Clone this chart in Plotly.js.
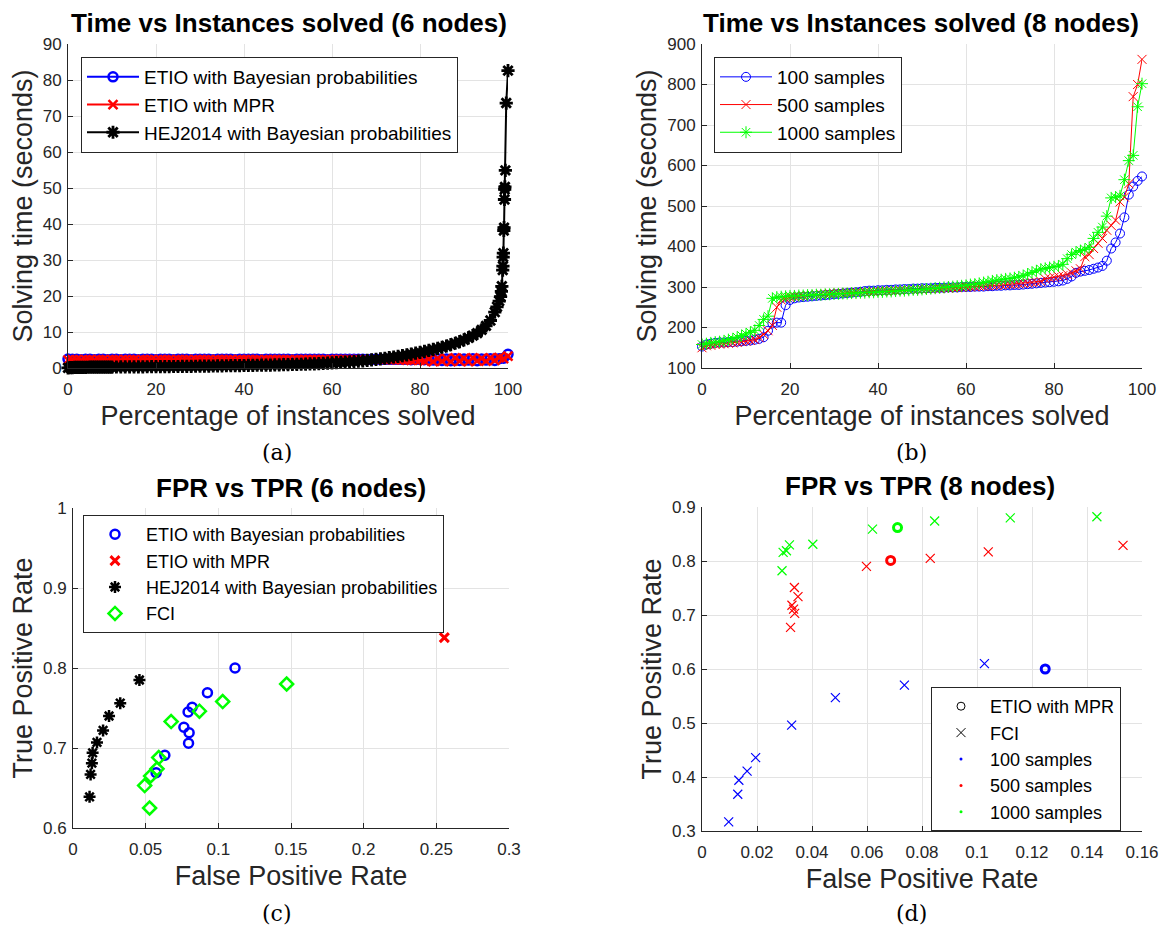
<!DOCTYPE html>
<html>
<head>
<meta charset="utf-8">
<script src="https://cdn.plot.ly/plotly-3.0.1.min.js"></script>
<style>html,body{margin:0;padding:0;background:#fff;}#chart{width:1160px;height:927px;}</style>
</head>
<body>
<div id="chart"></div>
<script>
// ---------- (a) Time vs Instances solved (6 nodes) ----------
const pctA = [0,1,2,3,4,5,6,7,8,9,10,11,12,13,14,15,16,17,18,19,20,21,22,23,24,25,26,27,28,29,30,31,32,33,34,35,36,37,38,39,40,41,42,43,44,45,46,47,48,49,50,51,52,53,54,55,56,57,58,59,60,61,62,63,64,65,66,67,68,69,70,71,72,73,74,75,76,77,78,79,80,81,82,83,84,85,86,87,88,89,90,91,92,93,94,95,96,97,98,99,100];
const etioBayesA = [2.5,2.4,2.4,2.3,2.4,2.4,2.3,2.4,2.4,2.3,2.4,2.4,2.3,2.4,2.4,2.4,2.3,2.4,2.4,2.4,2.3,2.4,2.4,2.4,2.3,2.4,2.4,2.4,2.3,2.4,2.4,2.4,2.4,2.3,2.4,2.4,2.4,2.4,2.3,2.4,2.4,2.4,2.4,2.4,2.3,2.4,2.4,2.4,2.4,2.4,2.4,2.3,2.4,2.4,2.4,2.4,2.4,2.4,2.4,2.3,2.4,2.4,2.4,2.4,2.4,2.4,2.4,2.4,2.3,2.4,2.4,2.4,2.4,2.4,2.4,2.4,2.4,2.4,2.3,2.4,2.4,2.3,2.5,2.2,2.6,2.1,2.5,2.0,2.6,2.1,2.5,2.2,2.6,2.0,2.5,2.2,2.6,2.1,2.6,2.7,3.8];
const etioMprA = [2.2,2.3,2.3,2.2,2.3,2.3,2.2,2.3,2.3,2.2,2.3,2.3,2.2,2.3,2.3,2.3,2.2,2.3,2.3,2.3,2.2,2.3,2.3,2.3,2.2,2.3,2.3,2.3,2.2,2.3,2.3,2.3,2.3,2.2,2.3,2.3,2.3,2.3,2.2,2.3,2.3,2.3,2.3,2.3,2.2,2.3,2.3,2.3,2.3,2.3,2.3,2.2,2.3,2.3,2.3,2.3,2.3,2.3,2.3,2.2,2.3,2.3,2.3,2.3,2.3,2.3,2.3,2.3,2.2,2.3,2.3,2.3,2.3,2.3,2.3,2.3,2.3,2.2,2.1,2.3,2.2,1.9,2.5,1.8,2.6,1.9,2.7,1.8,2.8,1.9,2.7,1.8,2.8,2.0,2.7,1.9,2.8,2.1,2.9,2.6,3.3];
const hejPctA = [0,0.5,1,1.5,2,2.5,3,3.5,4,4.5,5,5.5,6,6.5,7,7.5,8,8.5,9,9.5,10,11,12,13,14,15,16,17,18,19,20,21,22,23,24,25,26,27,28,29,30,31,32,33,34,35,36,37,38,39,40,41,42,43,44,45,46,47,48,49,50,51,52,53,54,55,56,57,58,59,60,61,62,63,64,65,66,67,68,69,70,71,72,73,74,75,76,77,78,79,80,81,82,83,84,85,86,87,88,89,90,91,92,93,94,95,96,97,97.5,98,98.3,98.5,98.6,98.8,98.85,98.9,98.95,99.05,99.1,99.2,99.25,99.3,99.4,99.6,100];
const hejBayesA = [0.05,0.10,0.13,0.15,0.17,0.18,0.19,0.20,0.20,0.21,0.22,0.22,0.23,0.23,0.24,0.24,0.25,0.25,0.26,0.26,0.27,0.28,0.29,0.30,0.31,0.32,0.33,0.34,0.35,0.36,0.37,0.38,0.39,0.40,0.41,0.42,0.43,0.45,0.46,0.48,0.50,0.52,0.54,0.56,0.58,0.60,0.62,0.64,0.66,0.68,0.70,0.72,0.74,0.76,0.78,0.80,0.82,0.85,0.88,0.91,0.94,0.97,1.00,1.04,1.08,1.12,1.17,1.22,1.28,1.34,1.40,1.47,1.54,1.62,1.70,1.79,1.89,2.00,2.12,2.25,2.40,2.55,2.71,2.88,3.06,3.25,3.45,3.66,3.88,4.11,4.35,4.60,4.87,5.15,5.45,5.77,6.11,6.48,6.88,7.32,7.80,8.35,8.98,9.70,10.6,11.7,13.2,15.5,17.0,18.6,19.8,21.3,22.7,27.2,28.3,30.8,31.9,38.2,39.0,46.8,49.6,50.3,54.9,73.6,82.6];

// ---------- (b) Time vs Instances solved (8 nodes) ----------
const pctB = [0,1,2,3,4,5,6,7,8,9,10,11,12,13,14,15,16,17,18,19,20,21,22,23,24,25,26,27,28,29,30,31,32,33,34,35,36,37,38,39,40,41,42,43,44,45,46,47,48,49,50,51,52,53,54,55,56,57,58,59,60,61,62,63,64,65,66,67,68,69,70,71,72,73,74,75,76,77,78,79,80,81,82,83,84,85,86,87,88,89,90,91,92,93,94,95,96,97,98,99,100];
const samples100B = [153,158,160,162,163,163,164,164,165,166,167,168,170,172,176,192,210,212,212,255,268,272,274,275,276,277,278,279,280,281,282,283,284,285,286,287,288,290,291,291,292,292,293,293,294,294,295,295,296,296,297,297,297,298,298,298,299,299,299,300,300,300,301,301,301,302,302,303,303,304,304,305,305,306,307,308,309,310,311,312,313,314,316,320,326,335,338,340,342,345,348,352,365,395,410,432,472,528,548,562,573];
const samples500B = [150,155,156,158,159,160,161,162,163,165,166,168,170,175,183,192,205,250,268,272,274,276,277,278,279,280,281,282,283,284,284,285,285,286,286,287,287,288,288,289,289,290,290,291,291,292,292,293,293,294,294,295,295,296,296,297,297,298,298,299,300,300,301,302,302,303,304,304,305,306,306,307,308,309,310,311,312,314,320,322,324,326,328,331,335,340,345,375,380,395,408,420,440,452,465,510,522,555,770,800,862];
const samples1000B = [158,160,162,164,165,167,170,172,176,180,184,188,193,205,220,228,272,275,276,277,278,278,279,279,280,280,281,281,282,282,283,283,284,284,285,285,286,286,287,287,288,288,289,289,290,291,291,292,293,293,294,295,296,297,298,299,300,301,302,303,304,306,307,309,311,313,315,317,318,320,321,323,325,328,332,336,340,344,346,348,350,352,356,370,380,386,390,393,398,420,435,448,475,520,522,525,565,612,625,745,802];

// ---------- (c) FPR vs TPR (6 nodes) ----------
const etioBayesFprC = [0.1115,0.0925,0.0820,0.0792,0.0763,0.0799,0.0795,0.0632,0.0572];
const etioBayesTprC = [0.800,0.769,0.751,0.745,0.726,0.719,0.706,0.691,0.669];
const etioMprFprC = [0.2555];
const etioMprTprC = [0.838];
const hejFprC = [0.0457,0.0325,0.0248,0.0207,0.0165,0.0135,0.0130,0.0121,0.0114];
const hejTprC = [0.785,0.756,0.740,0.722,0.707,0.694,0.681,0.667,0.639];
const fciFprC = [0.1470,0.1030,0.0870,0.0675,0.0590,0.0578,0.0534,0.0493,0.0527];
const fciTprC = [0.780,0.758,0.746,0.733,0.688,0.674,0.665,0.653,0.625];

// ---------- (d) FPR vs TPR (8 nodes) ----------
const fci100Fpr = [0.0097,0.0130,0.0134,0.0164,0.0195,0.0326,0.0485,0.0736,0.1027];
const fci100Tpr = [0.317,0.368,0.394,0.411,0.436,0.496,0.547,0.570,0.610];
const fci500Fpr = [0.0336,0.0349,0.0327,0.0333,0.0337,0.0322,0.0598,0.0830,0.1041,0.1531];
const fci500Tpr = [0.751,0.734,0.718,0.711,0.703,0.677,0.790,0.805,0.817,0.829];
const fci1000Fpr = [0.0291,0.0295,0.0307,0.0318,0.0403,0.0620,0.0846,0.1121,0.1436];
const fci1000Tpr = [0.782,0.816,0.819,0.830,0.831,0.859,0.874,0.880,0.882];
const etio100Fpr = [0.1248];
const etio100Tpr = [0.600];
const etio500Fpr = [0.0686];
const etio500Tpr = [0.801];
const etio1000Fpr = [0.0711];
const etio1000Tpr = [0.862];

// ---------- texts ----------
const panelTitles = ['Time vs Instances solved (6 nodes)','Time vs Instances solved (8 nodes)','FPR vs TPR (6 nodes)','FPR vs TPR (8 nodes)'];
const subLabels = ['(a)','(b)','(c)','(d)'];

const SANS = 'Liberation Sans, Arial, Helvetica, sans-serif';
const AXC = '#262626';
const BLUE = '#0000ff', RED = '#ff0000', GREEN = '#00ff00', BLACK = '#000000';
const W = 1160, H = 927;
const px = v => v / W;
const py = v => 1 - v / H;

function xax(l, r, range, dtick, anchor, title) {
  return {domain:[px(l), px(r)], range, tickmode:'linear', tick0:range[0], dtick, anchor,
    showgrid:true, gridcolor:'#e3e3e3', gridwidth:1, zeroline:false,
    showline:true, linecolor:AXC, linewidth:1, ticks:'inside', ticklen:5, tickwidth:1, tickcolor:AXC,
    tickfont:{family:SANS, size:17, color:AXC}, ticklabelstandoff:6,
    title:{text:title, font:{family:SANS, size:27, color:AXC}, standoff:7}};
}
function yax(t, b, range, dtick, anchor, title) {
  return {domain:[py(b), py(t)], range, tickmode:'linear', tick0:range[0], dtick, anchor,
    showgrid:true, gridcolor:'#e3e3e3', gridwidth:1, zeroline:false,
    showline:true, linecolor:AXC, linewidth:1, ticks:'inside', ticklen:5, tickwidth:1, tickcolor:AXC,
    tickfont:{family:SANS, size:17, color:AXC}, ticklabelstandoff:2,
    title:{text:title, font:{family:SANS, size:27, color:AXC}, standoff:2}};
}

function lineTrace(x, y, name, color, symbol, msize, mlw, lw, xa, ya, leg) {
  return {type:'scatter', mode:'lines+markers', x, y, name, xaxis:xa, yaxis:ya, legend:leg, cliponaxis:false,
    line:{color, width:lw}, marker:{symbol, size:msize, color, line:{color, width:mlw}}};
}
function ptTrace(x, y, name, color, symbol, msize, mlw, xa, ya, leg, show) {
  return {type:'scatter', mode:'markers', x, y, name, xaxis:xa, yaxis:ya, legend:leg, cliponaxis:false,
    showlegend:show, marker:{symbol, size:msize, color, line:{color, width:mlw}}};
}

const traces = [
  lineTrace(pctA, etioBayesA, 'ETIO with Bayesian probabilities', BLUE, 'circle-open', 9, 2.5, 2, 'x', 'y', 'legend'),
  lineTrace(pctA, etioMprA, 'ETIO with MPR', RED, 'x-thin-open', 9, 2.5, 2, 'x', 'y', 'legend'),
  lineTrace(hejPctA, hejBayesA, 'HEJ2014 with Bayesian probabilities', BLACK, 'asterisk-open', 11, 2.8, 2, 'x', 'y', 'legend'),

  lineTrace(pctB, samples100B, '100 samples', BLUE, 'circle-open', 9, 1, 1, 'x2', 'y2', 'legend2'),
  lineTrace(pctB, samples500B, '500 samples', RED, 'x-thin-open', 9, 1, 1, 'x2', 'y2', 'legend2'),
  lineTrace(pctB, samples1000B, '1000 samples', GREEN, 'asterisk-open', 10, 1, 1, 'x2', 'y2', 'legend2'),

  ptTrace(etioBayesFprC, etioBayesTprC, 'ETIO with Bayesian probabilities', BLUE, 'circle-open', 9, 2.5, 'x3', 'y3', 'legend3', true),
  ptTrace(etioMprFprC, etioMprTprC, 'ETIO with MPR', RED, 'x-thin-open', 9, 3, 'x3', 'y3', 'legend3', true),
  ptTrace(hejFprC, hejTprC, 'HEJ2014 with Bayesian probabilities', BLACK, 'asterisk-open', 10, 2.5, 'x3', 'y3', 'legend3', true),
  ptTrace(fciFprC, fciTprC, 'FCI', GREEN, 'diamond-open', 10, 2.5, 'x3', 'y3', 'legend3', true),

  ptTrace(fci100Fpr, fci100Tpr, 'FCI 100', BLUE, 'x-thin-open', 9, 1.2, 'x4', 'y4', 'legend4', false),
  ptTrace(fci500Fpr, fci500Tpr, 'FCI 500', RED, 'x-thin-open', 9, 1.2, 'x4', 'y4', 'legend4', false),
  ptTrace(fci1000Fpr, fci1000Tpr, 'FCI 1000', GREEN, 'x-thin-open', 9, 1.2, 'x4', 'y4', 'legend4', false),
  ptTrace(etio100Fpr, etio100Tpr, 'ETIO 100', BLUE, 'circle-open', 8, 3, 'x4', 'y4', 'legend4', false),
  ptTrace(etio500Fpr, etio500Tpr, 'ETIO 500', RED, 'circle-open', 8, 3, 'x4', 'y4', 'legend4', false),
  ptTrace(etio1000Fpr, etio1000Tpr, 'ETIO 1000', GREEN, 'circle-open', 8, 3, 'x4', 'y4', 'legend4', false),
  // legend keys of panel (d)
  ptTrace([null], [null], 'ETIO with MPR', BLACK, 'circle-open', 8, 1, 'x4', 'y4', 'legend4', true),
  ptTrace([null], [null], 'FCI', BLACK, 'x-thin-open', 9, 1, 'x4', 'y4', 'legend4', true),
  ptTrace([null], [null], '100 samples', BLUE, 'circle', 3, 0, 'x4', 'y4', 'legend4', true),
  ptTrace([null], [null], '500 samples', RED, 'circle', 3, 0, 'x4', 'y4', 'legend4', true),
  ptTrace([null], [null], '1000 samples', GREEN, 'circle', 3, 0, 'x4', 'y4', 'legend4', true)
];

function legendBox(l, t, size, iw) {
  return {x:px(l), y:py(t), xanchor:'left', yanchor:'top', bgcolor:'#ffffff', bordercolor:AXC, borderwidth:1,
    font:{family:SANS, size:size, color:'#000000'}, tracegroupgap:0, traceorder:'normal', itemwidth:iw};
}

const annotations = [];
const titlePos = [[289, 23], [921, 23], [291, 488], [920, 486]];
panelTitles.forEach((t, i) => annotations.push({text:'<b>' + t + '</b>', xref:'paper', yref:'paper', x:px(titlePos[i][0]), y:py(titlePos[i][1]),
  xanchor:'center', yanchor:'middle', showarrow:false, font:{family:SANS, size:26, color:'#000000'}}));
const labPos = [[277, 452], [911, 452], [277, 913], [911, 913]];
subLabels.forEach((t, i) => annotations.push({text:t, xref:'paper', yref:'paper', x:px(labPos[i][0]), y:py(labPos[i][1]),
  xanchor:'center', yanchor:'middle', showarrow:false, font:{family:'DejaVu Serif, Liberation Serif, serif', size:22, color:'#000000'}}));

const layout = {
  width:W, height:H, margin:{l:0, r:0, t:0, b:0}, paper_bgcolor:'#ffffff', plot_bgcolor:'#ffffff',
  showlegend:true, hovermode:false, font:{family:SANS, color:AXC},
  xaxis: xax(68, 508, [0, 100], 20, 'y', 'Percentage of instances solved'),
  yaxis: yax(44, 368, [0, 90], 10, 'x', 'Solving time (seconds)'),
  xaxis2: xax(702, 1142, [0, 100], 20, 'y2', 'Percentage of instances solved'),
  yaxis2: yax(44, 368, [100, 900], 100, 'x2', 'Solving time (seconds)'),
  xaxis3: xax(73, 509, [0, 0.3], 0.05, 'y3', 'False Positive Rate'),
  yaxis3: yax(508, 828, [0.6, 1], 0.1, 'x3', 'True Positive Rate'),
  xaxis4: xax(702, 1142, [0, 0.16], 0.02, 'y4', 'False Positive Rate'),
  yaxis4: yax(507, 831, [0.3, 0.9], 0.1, 'x4', 'True Positive Rate'),
  legend: legendBox(81, 57, 19, 52),
  legend2: legendBox(714, 57, 19, 52),
  legend3: legendBox(83, 515, 18, 52),
  legend4: legendBox(931, 687, 18, 48),
  annotations
};

Plotly.newPlot('chart', traces, layout, {displayModeBar:false, staticPlot:true});
</script>
</body>
</html>
